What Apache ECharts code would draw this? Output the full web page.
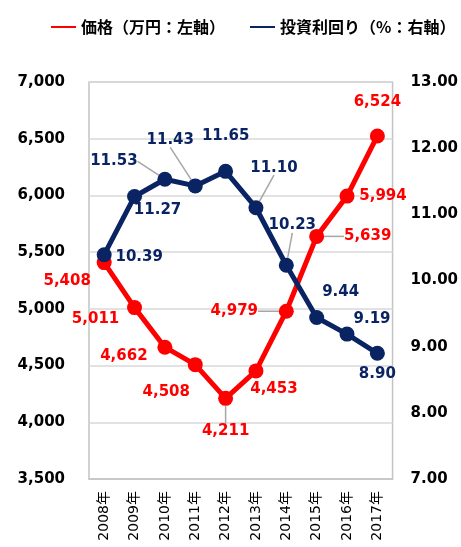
<!DOCTYPE html>
<html>
<head>
<meta charset="utf-8">
<script src="https://cdn.jsdelivr.net/npm/echarts@6/dist/echarts.min.js"></script>
<style>html,body{margin:0;padding:0;background:#fff;}#c{width:461px;height:547px;}</style>
</head>
<body>
<div id="c"></div>
<script>
const categories = ['2008年','2009年','2010年','2011年','2012年','2013年','2014年','2015年','2016年','2017年'];
const priceValues = [5408, 5011, 4662, 4508, 4211, 4453, 4979, 5639, 5994, 6524];
const yieldValues = [10.39, 11.27, 11.53, 11.43, 11.65, 11.10, 10.23, 9.44, 9.19, 8.90];
const priceName = '価格（万円：左軸）';
const yieldName = '投資利回り（%：右軸）';

// label offsets (relative to marker centre) and leader lines
const priceLabelOffsets = [[-37,19],[-39,11],[-41,9],[-29,27],[0,33],[18,18],[-52,0],[51,0],[36,0],[0,-34]];
const priceLeaders = {4: [[0,8],[0,10],[0,13]], 6: [[-19,0],[-12,0],[-7,0]], 7: [[7,0],[14,0],[20,0]]};
const yieldLabelOffsets = [[35,2],[23,14],[-51,-18],[-25,-46],[0,-35],[18,-40],[6,-40],[24,-25],[25,-15],[0,21]];
const yieldLeaders = {2: [[-17,-18],[-7,-18],[-2,-5]], 3: [[-24,-27],[-15,-17],[-6,-7]], 5: [[18,-20],[11,-13],[5,-6]], 6: [[7,-21],[5,-15],[2,-8]]};

const RED = '#ff0000', NAVY = '#0a2463';
const FONT = 'DejaVu Sans, Verdana, sans-serif';

function makeLayout(offsets, leaders) {
  return function (p) {
    const o = offsets[p.dataIndex];
    const cx = p.rect.x + p.rect.width / 2, cy = p.rect.y + p.rect.height / 2;
    const res = { dx: o[0], dy: o[1] };
    const l = leaders[p.dataIndex];
    if (l) res.labelLinePoints = l.map(q => [cx + q[0], cy + q[1]]);
    return res;
  };
}
function items(vals, leaders) {
  return vals.map((v, i) => ({ value: v, labelLine: { show: !!leaders[i] } }));
}

const chart = echarts.init(document.getElementById('c'), null, { renderer: 'canvas' });
chart.setOption({
  animation: false,
  legend: {
    data: [priceName, yieldName],
    top: 14, left: 46,
    icon: 'rect', itemWidth: 25, itemHeight: 2, itemGap: 25,
    textStyle: { fontFamily: 'Noto Sans CJK JP', fontWeight: 'bold', fontSize: 16, color: '#000' }
  },
  grid: { left: 89, right: 67, top: 82, bottom: 68, show: true, borderColor: '#c4c4c4', borderWidth: 1.5 },
  xAxis: {
    type: 'category', data: categories, boundaryGap: true,
    axisLine: { show: true, lineStyle: { color: '#c4c4c4', width: 1.5 } },
    axisTick: { show: false },
    axisLabel: { rotate: 90, margin: 12, fontFamily: FONT + ', Noto Sans CJK JP', fontSize: 14, color: '#000' }
  },
  yAxis: [
    {
      type: 'value', min: 3500, max: 7000, interval: 500,
      axisLine: { show: false }, axisTick: { show: false },
      splitLine: { lineStyle: { color: '#d9d9d9', width: 1.5 } },
      axisLabel: { margin: 24, fontFamily: FONT, fontWeight: 'bold', fontSize: 15, color: '#000',
        formatter: v => v.toLocaleString('en-US') }
    },
    {
      type: 'value', min: 7, max: 13, interval: 1,
      axisLine: { show: false }, axisTick: { show: false }, splitLine: { show: false },
      axisLabel: { margin: 18, fontFamily: FONT, fontWeight: 'bold', fontSize: 15, color: '#000',
        formatter: v => v.toFixed(2) }
    }
  ],
  series: [
    {
      name: priceName, type: 'line', yAxisIndex: 0, z: 2,
      data: items(priceValues, priceLeaders),
      symbol: 'circle', symbolSize: 15,
      lineStyle: { color: RED, width: 5 }, itemStyle: { color: RED },
      label: { show: true, position: 'inside', color: RED, fontFamily: FONT, fontWeight: 'bold', fontSize: 15,
        formatter: p => p.value.toLocaleString('en-US') },
      labelLine: { lineStyle: { color: '#a6a6a6', width: 1.5 } },
      labelLayout: makeLayout(priceLabelOffsets, priceLeaders)
    },
    {
      name: yieldName, type: 'line', yAxisIndex: 1, z: 3,
      data: items(yieldValues, yieldLeaders),
      symbol: 'circle', symbolSize: 15,
      lineStyle: { color: NAVY, width: 5 }, itemStyle: { color: NAVY },
      label: { show: true, position: 'inside', color: NAVY, fontFamily: FONT, fontWeight: 'bold', fontSize: 15,
        formatter: p => p.value.toFixed(2) },
      labelLine: { lineStyle: { color: '#a6a6a6', width: 1.5 } },
      labelLayout: makeLayout(yieldLabelOffsets, yieldLeaders)
    }
  ]
});
</script>
</body>
</html>
